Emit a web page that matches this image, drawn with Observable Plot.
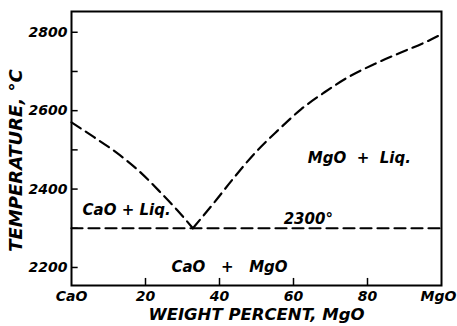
<!DOCTYPE html>
<html>
<head>
<meta charset="utf-8">
<script src="https://cdn.jsdelivr.net/npm/d3@7"></script>
<script src="https://cdn.jsdelivr.net/npm/@observablehq/plot@0.6"></script>
<style>
  html, body { margin: 0; padding: 0; background: #fff; }
  svg { display: block; }
  svg text { white-space: pre; }
</style>
</head>
<body>
<div id="chart"></div>
<script>
// CaO liquidus (weight % MgO, temperature °C)
const caoLiqX = [0, 6, 12, 18, 24, 28.6, 32.8];
const caoLiqT = [2570, 2533, 2494, 2448, 2392, 2346, 2300];
// MgO liquidus
const mgoLiqX = [32.8, 38.6, 44.0, 49.4, 55.7, 62.1, 68.4, 74.7, 81.9, 89.2, 96.4, 100];
const mgoLiqT = [2300, 2366, 2430, 2490, 2549, 2604, 2647, 2685, 2719, 2749, 2778, 2795];
// Eutectic line
const eutX = [0, 100];
const eutT = [2300, 2300];

const xTicks = [0, 20, 40, 60, 80, 100];
const xTickLabels = ["CaO", "20", "40", "60", "80", "MgO"];
const yTicksMajor = [2200, 2400, 2600, 2800];
const yTicksMinor = [2300, 2500, 2700];

const regionLabels = ["CaO + Liq.", "2300°", "MgO  +  Liq.", "CaO   +   MgO"];
const regionX = [14.9, 64, 77.8, 42.7];
const regionT = [2345, 2322, 2478, 2200];

const xTitle = "WEIGHT PERCENT, MgO";
const yTitle = "TEMPERATURE, °C";

const xMin = 0, xMax = 100, yMin = 2154, yMax = 2853;

const toRows = (xs, ts) => xs.map((x, i) => ({x, t: ts[i]}));
const font = "'DejaVu Sans', sans-serif";
const dash = "11,6";
const nx = xTicks.length;

const chart = Plot.plot({
  width: 457,
  height: 326,
  marginLeft: 71,
  marginRight: 16,
  marginTop: 11,
  marginBottom: 41,
  style: {fontFamily: font, fontWeight: "bold", fontStyle: "italic", fontSize: "14px", color: "#000", background: "#fff"},
  x: {domain: [xMin, xMax], axis: null},
  y: {domain: [yMin, yMax], axis: null},
  marks: [
    Plot.frame({stroke: "#000", strokeWidth: 2}),
    // inward tick marks
    Plot.ruleY([...yTicksMajor, ...yTicksMinor], {x1: xMin, x2: xMin + 1.8, stroke: "#000", strokeWidth: 1.5}),
    Plot.ruleX(xTicks.slice(1, -1), {y1: yMin, y2: yMin + 18, stroke: "#000", strokeWidth: 1.5}),
    // x tick labels
    Plot.text(xTicks.slice(0, nx - 1), {x: d => d, frameAnchor: "bottom", lineAnchor: "middle", dy: 11, text: (d, i) => xTickLabels[i], fontSize: 14, fill: "#000"}),
    Plot.text(xTicks.slice(nx - 1), {x: d => d, frameAnchor: "bottom", lineAnchor: "middle", dy: 11, dx: -3, text: () => xTickLabels[nx - 1], fontSize: 14, fill: "#000"}),
    Plot.axisY(yTicksMajor, {tickSize: 0, tickPadding: 4, tickFormat: d => String(d), label: null, fontSize: 14}),
    Plot.line(toRows(caoLiqX, caoLiqT), {x: "x", y: "t", stroke: "#000", strokeWidth: 2.2, strokeDasharray: dash, curve: "monotone-x"}),
    Plot.line(toRows(mgoLiqX, mgoLiqT), {x: "x", y: "t", stroke: "#000", strokeWidth: 2.2, strokeDasharray: dash, curve: "monotone-x"}),
    Plot.line(toRows(eutX, eutT), {x: "x", y: "t", stroke: "#000", strokeWidth: 2.2, strokeDasharray: dash}),
    Plot.text(regionLabels, {x: (d, i) => regionX[i], y: (d, i) => regionT[i], text: d => d, fontSize: 15, fill: "#000"}),
    Plot.text([xTitle], {frameAnchor: "bottom", lineAnchor: "middle", textAnchor: "middle", dy: 29, text: d => d, fontSize: 16.5, fill: "#000"}),
    Plot.text([yTitle], {frameAnchor: "left", textAnchor: "middle", lineAnchor: "middle", rotate: -90, dx: -55, dy: 12, text: d => d, fontSize: 18, fill: "#000"})
  ]
});
document.getElementById("chart").appendChild(chart);
</script>
</body>
</html>
